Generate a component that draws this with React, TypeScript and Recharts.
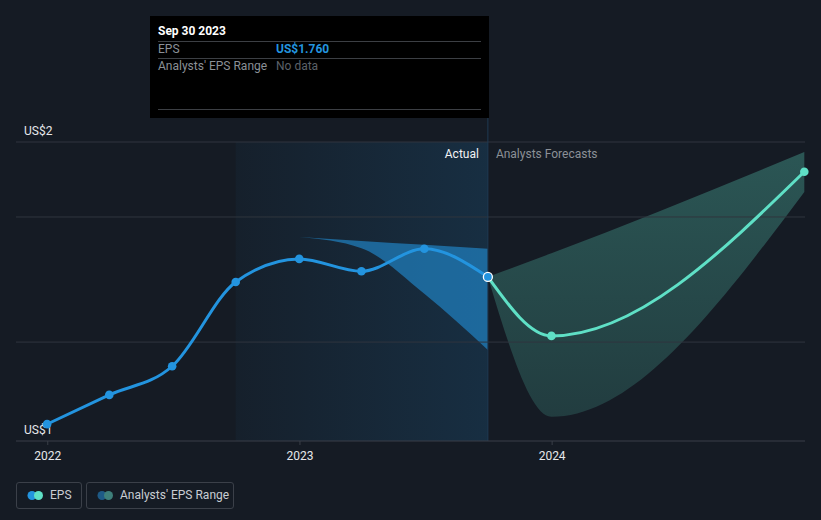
import {
  ComposedChart,
  Line,
  Area,
  XAxis,
  YAxis,
  ReferenceLine,
  ReferenceArea,
} from 'recharts'

// quarter-end EPS actuals
const actualDates = ['2021-12-31', '2022-03-31', '2022-06-30', '2022-09-30', '2022-12-31', '2023-03-31', '2023-06-30', '2023-09-30']
const actualEps = [1.498, 1.55, 1.601, 1.751, 1.792, 1.77, 1.81, 1.76]

// historical analyst range
const pastRangeDates = ['2022-12-31', '2023-03-31', '2023-06-30', '2023-09-30']
const pastRangeLow = [1.831, 1.811, 1.73, 1.63]
const pastRangeHigh = [1.831, 1.824, 1.817, 1.81]

// forecasts
const forecastDates = ['2023-09-30', '2023-12-31', '2024-12-31']
const forecastEps = [1.76, 1.655, 1.947]
const forecastLow = [1.76, 1.511, 1.911]
const forecastHigh = [1.76, 1.802, 1.982]

const yearTicks = ['2022-01-01', '2023-01-01', '2024-01-01']
const yTicks = [1.468, 2.0]
const yTickLabels = ['US$1', 'US$2']
const gridValues = [2.0, 1.8666, 1.644]

const X_DOMAIN = [Date.parse('2021-11-16'), Date.parse('2025-01-01')]
const Y_DOMAIN = [1.468, 2.0]
const PAST_START = Date.parse('2022-09-30')
const NOW = Date.parse('2023-09-30')

const BLUE = '#2394df'
const TEAL = '#5fe0c6'
const GRID = '#30353e'
const FONT = 'Roboto, "Noto Sans", sans-serif'

type Row = {
  t: number
  eps?: number
  fc?: number
  pastRange?: [number, number]
  fcRange?: [number, number]
}

const allDates = Array.from(new Set([...actualDates, ...pastRangeDates, ...forecastDates])).sort()
const rows: Row[] = allDates.map((d) => {
  const row: Row = { t: Date.parse(d) }
  const a = actualDates.indexOf(d)
  if (a >= 0) row.eps = actualEps[a]
  const p = pastRangeDates.indexOf(d)
  if (p >= 0) row.pastRange = [pastRangeLow[p], pastRangeHigh[p]]
  const f = forecastDates.indexOf(d)
  if (f >= 0) {
    row.fc = forecastEps[f]
    row.fcRange = [forecastLow[f], forecastHigh[f]]
  }
  return row
})

function YLabel({ viewBox, text }: { viewBox?: { x: number; y: number }; text: string }) {
  if (!viewBox) return null
  return (
    <text x={viewBox.x + 8} y={viewBox.y - 7} fill="#e6e8eb" fontSize={12} fontFamily={FONT}>
      {text}
    </text>
  )
}

function ActualDot(props: { cx?: number; cy?: number; payload?: Row; index?: number }) {
  const { cx, cy, payload, index } = props
  if (cx == null || cy == null) return <g key={index} />
  if (payload?.t === NOW) {
    return <circle key={index} cx={cx} cy={cy} r={4.5} fill={BLUE} stroke="#ffffff" strokeWidth={1.3} />
  }
  return <circle key={index} cx={cx} cy={cy} r={4.3} fill={BLUE} />
}

function ForecastDot(props: { cx?: number; cy?: number; payload?: Row; index?: number }) {
  const { cx, cy, payload, index } = props
  if (cx == null || cy == null || payload?.t === NOW) return <g key={index} />
  return <circle key={index} cx={cx} cy={cy} r={4.3} fill={TEAL} />
}

function DividerLabel({ viewBox }: { viewBox?: { x: number; y: number } }) {
  if (!viewBox) return null
  return (
    <g fontFamily={FONT} fontSize={12}>
      <text x={viewBox.x - 9} y={viewBox.y + 16} textAnchor="end" fill="#f2f3f5">Actual</text>
      <text x={viewBox.x + 8} y={viewBox.y + 16} fill="#8b9097">Analysts Forecasts</text>
    </g>
  )
}

function LegendBox({ left, width, c1, c2, label }: { left: number; width: number; c1: string; c2: string; label: string }) {
  return (
    <div
      style={{
        position: 'absolute',
        left,
        top: 482,
        width,
        height: 27,
        boxSizing: 'border-box',
        border: '1px solid #3b4049',
        borderRadius: 3,
      }}
    >
      <svg width={30} height={25} style={{ position: 'absolute', left: 0, top: 0 }}>
        <circle cx={15} cy={12.5} r={4.5} fill={c1} />
        <circle cx={21.5} cy={12.5} r={4.5} fill={c2} />
      </svg>
      <span
        style={{
          position: 'absolute',
          left: 33,
          top: 0,
          lineHeight: '25px',
          fontSize: 12,
          color: '#c9cdd3',
          fontFamily: FONT,
          whiteSpace: 'nowrap',
        }}
      >
        {label}
      </span>
    </div>
  )
}

export default function App() {
  return (
    <div style={{ position: 'absolute', left: 0, top: 0, width: 821, height: 520, background: '#151b24', overflow: 'hidden' }}>
      <ComposedChart width={821} height={520} data={rows} margin={{ top: 142, right: 16, bottom: 49, left: 16 }}>
        <defs>
          <linearGradient id="pastHl" x1="0" y1="0" x2="1" y2="0">
            <stop offset="0%" stopColor="#2394df" stopOpacity={0.04} />
            <stop offset="100%" stopColor="#2394df" stopOpacity={0.16} />
          </linearGradient>
          <linearGradient id="fcBand" x1="0" y1="0" x2="0" y2="1">
            <stop offset="0%" stopColor={TEAL} stopOpacity={0.3} />
            <stop offset="100%" stopColor={TEAL} stopOpacity={0.17} />
          </linearGradient>
        </defs>
        <ReferenceArea x1={PAST_START} x2={NOW} fill="url(#pastHl)" fillOpacity={1} stroke="none" />
        {gridValues.map((v) => (
          <ReferenceLine key={v} y={v} stroke={GRID} strokeWidth={1} />
        ))}
        <XAxis
          dataKey="t"
          type="number"
          domain={X_DOMAIN}
          ticks={yearTicks.map((d) => Date.parse(d))}
          tickFormatter={(v: number) => String(new Date(v).getUTCFullYear())}
          tick={{ fill: '#e6e8eb', fontSize: 12, fontFamily: FONT }}
          tickLine={{ stroke: '#3a3f48' }}
          tickSize={4}
          tickMargin={6}
          axisLine={{ stroke: '#3a3f48' }}
          height={30}
        />
        <YAxis type="number" domain={Y_DOMAIN} hide />
        <ReferenceLine
          segment={[
            { x: NOW, y: 2.043 },
            { x: NOW, y: Y_DOMAIN[0] },
          ]}
          stroke="#1f3a52"
          ifOverflow="visible"
        />
        <ReferenceLine x={NOW} stroke="none" label={<DividerLabel />} />
        <Area
          type="monotone"
          dataKey="pastRange"
          stroke="none"
          fill={BLUE}
          fillOpacity={0.58}
          isAnimationActive={false}
          activeDot={false}
        />
        <Area
          type="monotone"
          dataKey="fcRange"
          stroke="none"
          fill="url(#fcBand)"
          fillOpacity={1}
          isAnimationActive={false}
          activeDot={false}
        />
        <Line
          type="monotone"
          dataKey="fc"
          stroke={TEAL}
          strokeWidth={3}
          dot={<ForecastDot />}
          isAnimationActive={false}
        />
        <Line
          type="monotone"
          dataKey="eps"
          stroke={BLUE}
          strokeWidth={3}
          dot={<ActualDot />}
          isAnimationActive={false}
        />
        {yTicks.map((v, i) => (
          <ReferenceLine key={`yl${v}`} y={v} stroke="none" label={<YLabel text={yTickLabels[i]} />} />
        ))}
      </ComposedChart>

      <div
        style={{
          position: 'absolute',
          left: 150,
          top: 16,
          width: 339,
          height: 102,
          background: '#000000',
          fontFamily: FONT,
          fontSize: 12,
        }}
      >
        <div style={{ position: 'absolute', left: 8, top: 8, color: '#ffffff', fontWeight: 700 }}>Sep 30 2023</div>
        <div style={{ position: 'absolute', left: 8, right: 8, top: 25, borderTop: '1px solid #3c3f44' }} />
        <div style={{ position: 'absolute', left: 8, top: 26, color: '#8b9097' }}>EPS</div>
        <div style={{ position: 'absolute', left: 126, top: 26, color: BLUE, fontWeight: 700 }}>US$1.760</div>
        <div style={{ position: 'absolute', left: 8, right: 8, top: 42, borderTop: '1px solid #3c3f44' }} />
        <div style={{ position: 'absolute', left: 8, top: 43, color: '#8b9097' }}>Analysts' EPS Range</div>
        <div style={{ position: 'absolute', left: 126, top: 43, color: '#5c6168' }}>No data</div>
        <div style={{ position: 'absolute', left: 8, right: 8, top: 93, borderTop: '1px solid #3c3f44' }} />
      </div>

      <LegendBox left={16} width={66} c1={BLUE} c2={TEAL} label="EPS" />
      <LegendBox left={86} width={148} c1="#1e5a86" c2="#3e7f7a" label="Analysts' EPS Range" />
    </div>
  )
}
